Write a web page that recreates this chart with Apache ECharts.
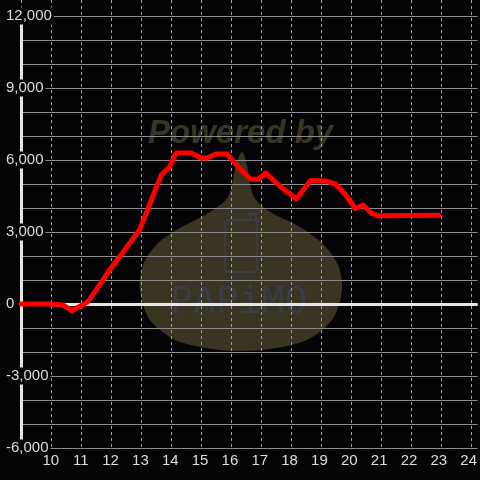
<!DOCTYPE html>
<html>
<head>
<meta charset="utf-8">
<script src="https://cdn.jsdelivr.net/npm/echarts@6/dist/echarts.min.js"></script>
<style>
html,body{margin:0;padding:0;background:#050407;}
#chart{width:480px;height:480px;}
</style>
</head>
<body>
<div id="chart"></div>
<script>
// Hours of day (x) and values (y)
var hours = [9, 10, 10.4, 10.7, 11.23, 11.5, 11.97, 12.4, 12.97, 13.2, 13.5, 13.7, 13.97, 14.2, 14.7, 15.03, 15.23, 15.53, 15.9, 16.3, 16.7, 16.95, 17.2, 17.73, 18.23, 18.7, 19.23, 19.53, 19.87, 20.2, 20.47, 20.73, 20.97, 23.0];
var values = [0, 0, -40, -280, 80, 550, 1420, 2120, 3080, 3790, 4750, 5375, 5700, 6290, 6290, 6080, 6080, 6250, 6250, 5680, 5200, 5200, 5460, 4850, 4380, 5150, 5120, 5000, 4560, 3980, 4120, 3790, 3680, 3700];
var baseline = 0;
var xMin = 9, xMax = 24.3, xStep = 1;
var yMin = -6000, yMax = 12000, yStep = 3000;

var chart = echarts.init(document.getElementById('chart'));
var pts = hours.map(function (h, i) { return [h, values[i]]; });

chart.setOption({
  backgroundColor: '#050407',
  animation: false,
  grid: [
    {left: 21, right: 0, top: 16, bottom: 32},
    {left: 21, right: 0, top: 0, bottom: 32}
  ],
  xAxis: [
    {
      type: 'value', gridIndex: 0, min: xMin, max: xMax, interval: xStep,
      axisLine: {show: false}, axisTick: {show: false},
      splitLine: {show: false},
      axisLabel: {
        color: '#dddddd', fontSize: 15, fontFamily: 'Liberation Sans', margin: 5,
        showMaxLabel: false,
        formatter: function (v) { return (Math.abs(v - Math.round(v)) < 1e-6 && v >= 10) ? String(Math.round(v)) : ''; }
      }
    },
    {
      type: 'value', gridIndex: 1, min: xMin, max: xMax, interval: xStep,
      axisLine: {show: false}, axisTick: {show: false}, axisLabel: {show: false},
      splitLine: {show: true, lineStyle: {color: '#a0a0a0', type: [3, 3], width: 1}}
    }
  ],
  yAxis: [
    {
      type: 'value', gridIndex: 0, min: yMin, max: yMax, interval: yStep,
      axisLine: {show: true, onZero: false, lineStyle: {color: '#e6e6e6', width: 3}},
      axisTick: {show: false},
      axisLabel: {
        color: '#dddddd', fontSize: 15, fontFamily: 'Liberation Sans',
        align: 'left', margin: 15, backgroundColor: '#050407', padding: [1, 2, 1, 0],
        formatter: function (v) { return v.toLocaleString('en-US'); }
      },
      splitLine: {show: true, lineStyle: {color: '#8c8c8c', width: 1}},
      minorTick: {show: false, splitNumber: 3},
      minorSplitLine: {show: true, lineStyle: {color: '#8c8c8c', width: 1}}
    },
    {
      type: 'value', gridIndex: 1, min: 0, max: 1, show: false
    }
  ],
  graphic: [
    {
      type: 'polygon', z: -1, silent: true,
      shape: {
        points: [[242,152],[236,165],[232,185],[226,200],[205,215],[180,228],[158,243],[143,265],[140,290],[150,320],[180,342],[241,351],[302,342],[332,320],[342,290],[338,265],[322,243],[298,226],[272,213],[256,200],[250,185],[247,165]],
        smooth: 0.3
      },
      style: {fill: '#3a3422'}
    },
    {
      type: 'text', z: -1, silent: true, left: 148, top: 117,
      style: {text: 'Powered by', font: 'italic bold 33px "Liberation Sans"', fill: '#3a3522'}
    },
    {
      type: 'rect', z: -1, silent: true,
      shape: {x: 225, y: 220, width: 32, height: 52, r: 3},
      style: {fill: 'none', stroke: '#3c3c44', lineWidth: 2}
    },
    {
      type: 'polyline', z: -1, silent: true,
      shape: {points: [[250, 220], [250, 214], [256, 214], [256, 222]]},
      style: {fill: 'none', stroke: '#3c3c44', lineWidth: 2}
    },
    {
      type: 'text', z: -1, silent: true, left: 170, top: 284,
      style: {text: 'PAPiMO', font: '38px "DejaVu Sans Mono"', fill: '#3c3c44'}
    }
  ],
  series: [
    {
      type: 'line', xAxisIndex: 0, yAxisIndex: 0, z: 1,
      data: [], silent: true,
      markLine: {
        silent: true, symbol: ['none', 'none'], label: {show: false},
        lineStyle: {color: '#e6e6e6', width: 3, type: 'solid'},
        data: [{yAxis: baseline}]
      }
    },
    {
      type: 'line', xAxisIndex: 0, yAxisIndex: 0, z: 5,
      data: pts, showSymbol: false, symbol: 'none', smooth: false,
      lineStyle: {color: '#ff0000', width: 5, join: 'round', cap: 'round'}
    }
  ]
});
</script>
</body>
</html>
